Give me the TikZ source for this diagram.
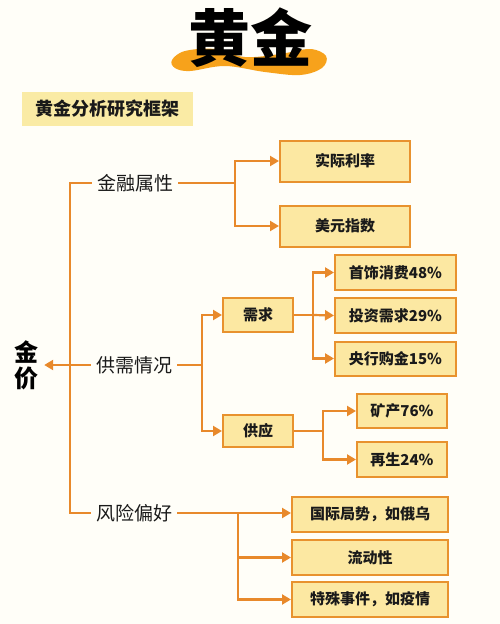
\documentclass[tikz,border=0pt]{standalone}
\usepackage{fontspec}
\setmainfont{Noto Sans CJK SC}
\usetikzlibrary{arrows.meta}
\definecolor{lineor}{HTML}{E8892B}
\definecolor{boxfill}{HTML}{FCE8A2}
\definecolor{boxline}{HTML}{E8922E}
\definecolor{subfill}{HTML}{FAEBA5}
\definecolor{waveor}{HTML}{F7A21B}
\definecolor{ink}{HTML}{1A1A1A}
\definecolor{bg}{HTML}{FFFEF8}
\tikzset{
  conn/.style={draw=lineor, line width=2.2pt},
  arr/.style={conn, -{Triangle[length=9pt,width=10pt]}},
  box/.style={draw=boxline, fill=boxfill, line width=2pt, text=ink, font=\fontsize{15}{15}\selectfont\bfseries, inner sep=0pt},
  lbl/.style={text=ink, font=\fontsize{19}{19}\selectfont, inner xsep=5pt, inner ysep=2pt}
}
\begin{document}
\begin{tikzpicture}[x=1pt,y=-1pt]
\fill[bg] (0,0) rectangle (500,624);
\useasboundingbox (0,0) rectangle (500,624);
% title wave
\fill[waveor] plot[smooth cycle, tension=0.6] coordinates {(172,60) (185,51) (215,49) (245,57) (280,54) (310,49) (326,56) (322,68) (300,75) (265,72) (225,66) (190,71) (175,68)};
\node[text=black, font=\fontsize{62}{62}\selectfont\bfseries, inner sep=0pt] (title) at (250,38) {黄金};
% subtitle
\node[fill=subfill, minimum width=171pt, minimum height=34pt, inner sep=0pt, text=ink, font=\fontsize{18}{18}\selectfont\bfseries] (sub) at (107.5,109) {黄金分析研究框架};
% root
\node[text=black, font=\fontsize{24}{26}\selectfont\bfseries, align=center, inner xsep=6pt, inner ysep=0pt] (jj) at (26,365) {金\\价};
% level 1 labels
\node[lbl] (jr) at (135,183) {金融属性};
\node[lbl] (gx) at (134,365) {供需情况};
\node[lbl] (fx) at (134,513) {风险偏好};
% boxes
\node[box, minimum width=130pt, minimum height=41pt] (b1) at (345,161) {实际利率};
\node[box, minimum width=130pt, minimum height=41pt] (b2) at (345,226) {美元指数};
\node[box, minimum width=70pt, minimum height=34pt] (xq) at (258,315) {需求};
\node[box, minimum width=70pt, minimum height=32pt] (gy) at (258,431) {供应};
\node[box, minimum width=121pt, minimum height=35pt] (c1) at (395.5,272.5) {首饰消费48\%};
\node[box, minimum width=121pt, minimum height=35pt] (c2) at (395.5,315.5) {投资需求29\%};
\node[box, minimum width=121pt, minimum height=34pt] (c3) at (395.5,358.5) {央行购金15\%};
\node[box, minimum width=90pt, minimum height=34pt] (d1) at (402,411) {矿产76\%};
\node[box, minimum width=90pt, minimum height=35pt] (d2) at (402,459.5) {再生24\%};
\node[box, minimum width=156pt, minimum height=35pt] (e1) at (370,514.5) {国际局势，如俄乌};
\node[box, minimum width=156pt, minimum height=35pt] (e2) at (370,557.5) {流动性};
\node[box, minimum width=156pt, minimum height=35pt] (e3) at (370,599.5) {特殊事件，如疫情};
% junction coordinates
\coordinate (tt) at (70,183);
\coordinate (tb) at (70,513);
\coordinate (j0) at (235,183);
\coordinate (g0) at (202,365);
\coordinate (x0) at (313,315);
\coordinate (y0) at (323,431);
\coordinate (f0) at (238,513);
% trunk
\draw[conn, line join=miter] (jr.west) -- (tt) -- (tb) -- (fx.west);
\draw[arr] (gx.west) -- (jj.east);
% financial
\draw[conn] (jr.east) -- (j0);
\draw[arr] (j0) |- (b1.west);
\draw[arr] (j0) |- (b2.west);
% supply/demand
\draw[conn] (gx.east) -- (g0);
\draw[arr] (g0) |- (xq.west);
\draw[arr] (g0) |- (gy.west);
\draw[conn] (xq.east) -- (x0);
\draw[arr] (x0) |- (c1.west);
\draw[arr] (x0) -- (c2.west);
\draw[arr] (x0) |- (c3.west);
\draw[conn] (gy.east) -- (y0);
\draw[arr] (y0) |- (d1.west);
\draw[arr] (y0) |- (d2.west);
% risk
\draw[arr] (fx.east) -- (fx.east -| e1.west);
\draw[arr] (f0) |- (e2.west);
\draw[arr] (f0) |- (e3.west);
\end{tikzpicture}
\end{document}
